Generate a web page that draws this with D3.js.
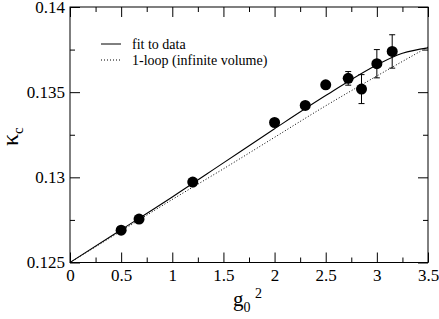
<!DOCTYPE html>
<head>
<meta charset="utf-8">
<style>
body { margin: 0; background: #fff; }
svg { display: block; }
svg text { font-family: "Liberation Serif", "Times New Roman", "DejaVu Serif", serif !important; fill: #000; }
.axis line { stroke: #000; stroke-width: 1; }
.axis path { display: none; }
.legend text { font-size: 14px; }
</style>
</head>
<body>
<svg width="439" height="319"></svg>
<script src="https://d3js.org/d3.v7.min.js"></script>
<script>
// tick values
var xTicks = [0, 0.5, 1, 1.5, 2, 2.5, 3, 3.5];
var xMinor = [0.25, 0.75, 1.25, 1.75, 2.25, 2.75, 3.25];
var yTicks = [0.125, 0.13, 0.135, 0.14];
var yMinor = [0.1275, 0.1325, 0.1375];

// measured kappa_c vs g0^2
var g2 = [0.5, 0.675, 1.2, 2.0, 2.3, 2.5, 2.72, 2.85, 3.0, 3.15];
var kappa = [0.1269, 0.12755, 0.12972, 0.13322, 0.13422, 0.13543, 0.13581, 0.13518, 0.13667, 0.13739];
var kappaErr = [0.0001, 0.0001, 0.0001, 0.0001, 0.0001, 0.0001, 0.0004, 0.00085, 0.00083, 0.00098];

// fit curve
var fitG2 = [0, 0.5, 1, 1.5, 2, 2.5, 3, 3.25, 3.5];
var fitKappa = [0.125, 0.12692, 0.12885, 0.13085, 0.13285, 0.1348, 0.1366, 0.13728, 0.1376];

// 1-loop curve
var loopG2 = [0, 0.5, 1, 1.5, 2, 2.5, 3, 3.5];
var loopKappa = [0.125, 0.12685, 0.1287, 0.1305, 0.13235, 0.1342, 0.13595, 0.13765];

var svg = d3.select("svg"),
    pl = 70, pr = 428, pt = 7, pb = 262.5;

var x = d3.scaleLinear().domain([0, 3.5]).range([pl, pr]);
var y = d3.scaleLinear().domain([0.125, 0.14]).range([pb, pt]);

// frame
svg.append("rect")
    .attr("x", pl).attr("y", pt)
    .attr("width", pr - pl).attr("height", pb - pt)
    .attr("fill", "none").attr("stroke", "#000").attr("stroke-width", 1);

function addAxis(axis, tx, ty) {
  svg.append("g").attr("class", "axis")
      .attr("transform", "translate(" + tx + "," + ty + ")")
      .call(axis)
      .attr("font-family", null).attr("font-size", 17);
}
// bottom
addAxis(d3.axisBottom(x).tickValues(xTicks).tickSizeInner(-10).tickSizeOuter(0).tickPadding(6).tickFormat(function(d) { return String(d); }), 0, pb);
addAxis(d3.axisBottom(x).tickValues(xMinor).tickSizeInner(-5).tickSizeOuter(0).tickFormat(""), 0, pb);
// top
addAxis(d3.axisTop(x).tickValues(xTicks).tickSizeInner(-10).tickSizeOuter(0).tickFormat(""), 0, pt);
addAxis(d3.axisTop(x).tickValues(xMinor).tickSizeInner(-5).tickSizeOuter(0).tickFormat(""), 0, pt);
// left
addAxis(d3.axisLeft(y).tickValues(yTicks).tickSizeInner(-10).tickSizeOuter(0).tickPadding(5).tickFormat(function(d) { return String(d); }), pl, 0);
addAxis(d3.axisLeft(y).tickValues(yMinor).tickSizeInner(-5).tickSizeOuter(0).tickFormat(""), pl, 0);
// right
addAxis(d3.axisRight(y).tickValues(yTicks).tickSizeInner(-10).tickSizeOuter(0).tickFormat(""), pr, 0);
addAxis(d3.axisRight(y).tickValues(yMinor).tickSizeInner(-5).tickSizeOuter(0).tickFormat(""), pr, 0);

// axis titles
var xl = svg.append("text").attr("x", 233).attr("y", 306).attr("font-size", 21);
xl.append("tspan").text("g");
xl.append("tspan").attr("font-size", 14).attr("dy", 6).text("0");
xl.append("tspan").attr("font-size", 14).attr("x", 255).attr("y", 298).text("2");

var yl = svg.append("text").attr("transform", "translate(18,146) rotate(-90)").attr("font-size", 24);
yl.append("tspan").text("κ");
yl.append("tspan").attr("font-size", 15).attr("dy", 5).text("c");

// curves
var line = d3.line().x(function(d) { return x(d[0]); }).y(function(d) { return y(d[1]); }).curve(d3.curveMonotoneX);

svg.append("path")
    .datum(d3.zip(loopG2, loopKappa))
    .attr("d", line)
    .attr("fill", "none").attr("stroke", "#000").attr("stroke-width", 1)
    .attr("stroke-dasharray", "1,2");

svg.append("path")
    .datum(d3.zip(fitG2, fitKappa))
    .attr("d", line)
    .attr("fill", "none").attr("stroke", "#000").attr("stroke-width", 1.1);

// error bars + points
var pts = g2.map(function(d, i) { return {g: d, k: kappa[i], e: kappaErr[i]}; });
var eb = svg.append("g").attr("stroke", "#000").attr("stroke-width", 1);
pts.forEach(function(p) {
  var cx = x(p.g), y0 = y(p.k - p.e), y1 = y(p.k + p.e);
  eb.append("line").attr("x1", cx).attr("x2", cx).attr("y1", y0).attr("y2", y1);
  eb.append("line").attr("x1", cx - 3).attr("x2", cx + 3).attr("y1", y0).attr("y2", y0);
  eb.append("line").attr("x1", cx - 3).attr("x2", cx + 3).attr("y1", y1).attr("y2", y1);
});
svg.append("g").selectAll("circle")
    .data(pts)
    .enter().append("circle")
    .attr("cx", function(d) { return x(d.g); })
    .attr("cy", function(d) { return y(d.k); })
    .attr("r", 5.5)
    .attr("fill", "#000");

// legend
var leg = svg.append("g").attr("class", "legend");
leg.append("line").attr("x1", 101).attr("x2", 121).attr("y1", 44).attr("y2", 44)
    .attr("stroke", "#000").attr("stroke-width", 1);
leg.append("line").attr("x1", 101).attr("x2", 121).attr("y1", 60).attr("y2", 60)
    .attr("stroke", "#000").attr("stroke-width", 1).attr("stroke-dasharray", "1,2");
leg.append("text").attr("x", 132).attr("y", 48.5).text("fit to data");
leg.append("text").attr("x", 132).attr("y", 64.5).text("1-loop (infinite volume)");
</script>
</body>
